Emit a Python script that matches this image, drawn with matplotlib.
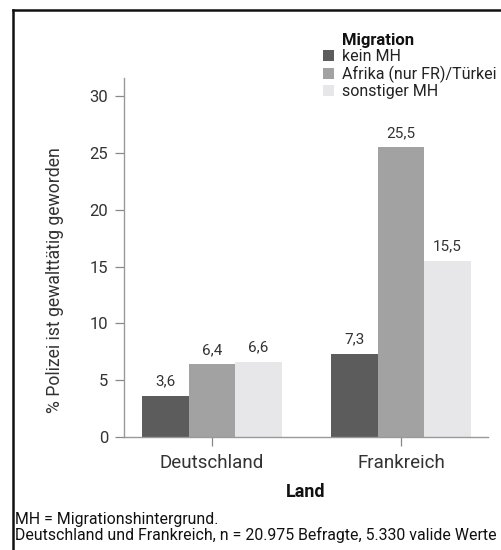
import numpy as np
import matplotlib.pyplot as plt
from matplotlib.lines import Line2D

laender = ["Deutschland", "Frankreich"]
gruppen = ["kein MH", "Afrika (nur FR)/Türkei", "sonstiger MH"]
kein_mh = [3.6, 7.3]
afrika_tuerkei = [6.4, 25.5]
sonstiger_mh = [6.6, 15.5]
y_ticks = [0, 5, 10, 15, 20, 25, 30]

plt.rcParams['font.family'] = ['Roboto', 'DejaVu Sans']

fig = plt.figure(figsize=(5.02, 5.5), dpi=100)
ax = fig.add_axes([0.247, 0.2055, 0.725, 0.6525])

farben = ['#5c5c5c', '#a2a2a2', '#e7e7e9']
werte = [kein_mh, afrika_tuerkei, sonstiger_mh]
x = np.arange(len(laender))
breite = 0.246

for i, (name, vals) in enumerate(zip(gruppen, werte)):
    pos = x + (i - 1) * breite
    bars = ax.bar(pos, vals, breite, color=farben[i], label=name, zorder=2)
    for b, v in zip(bars, vals):
        ax.text(b.get_x() + b.get_width() / 2, v + 0.65, f"{v:.1f}".replace('.', ','),
                ha='center', va='bottom', fontsize=11, color='#333333')

ax.set_xlim(-0.466, 1.46)
ax.set_ylim(0, 31.6)
ax.set_xticks(x)
ax.set_xticklabels(laender, fontsize=13.5, color='#333333')
ax.set_yticks(y_ticks)
ax.set_yticklabels([str(t) for t in y_ticks], fontsize=12, color='#333333')
ax.tick_params(axis='both', length=6.5, width=0.9, color='#888888')
ax.tick_params(axis='x', pad=6)
ax.tick_params(axis='y', pad=5)

for s in ['top', 'right']:
    ax.spines[s].set_visible(False)
for s in ['left', 'bottom']:
    ax.spines[s].set_color('#999999')
    ax.spines[s].set_linewidth(1.0)

ax.set_ylabel('% Polizei ist gewalttätig geworden', fontsize=12.7, color='#333333')
ax.yaxis.set_label_coords(-0.165, 0.437)
ax.set_xlabel('Land', fontsize=13, fontweight='bold', color='#111111', labelpad=8)

leg = ax.legend(loc='upper left', bbox_to_anchor=(0.53, 1.098), frameon=False,
                fontsize=11.5, handlelength=0.65, handleheight=0.65,
                handletextpad=0.55, labelspacing=0.08, borderaxespad=0)
for t in leg.get_texts():
    t.set_color('#222222')
fig.text(0.681, 0.927, 'Migration', fontsize=12, fontweight='bold', color='#111111',
         va='center', ha='left')

fig.text(0.03, 0.056, 'MH = Migrationshintergrund.', fontsize=11.4, color='#111111', va='center')
fig.text(0.03, 0.027, 'Deutschland und Frankreich, n = 20.975 Befragte, 5.330 valide Werte',
         fontsize=11.4, color='#111111', va='center')

# Rahmen links und oben
fig.add_artist(Line2D([0.026, 0.026], [0.0, 0.981], color='#111111', linewidth=1.8))
fig.add_artist(Line2D([0.026, 1.0], [0.981, 0.981], color='#111111', linewidth=1.8))

plt.savefig('out.png', dpi=100)
